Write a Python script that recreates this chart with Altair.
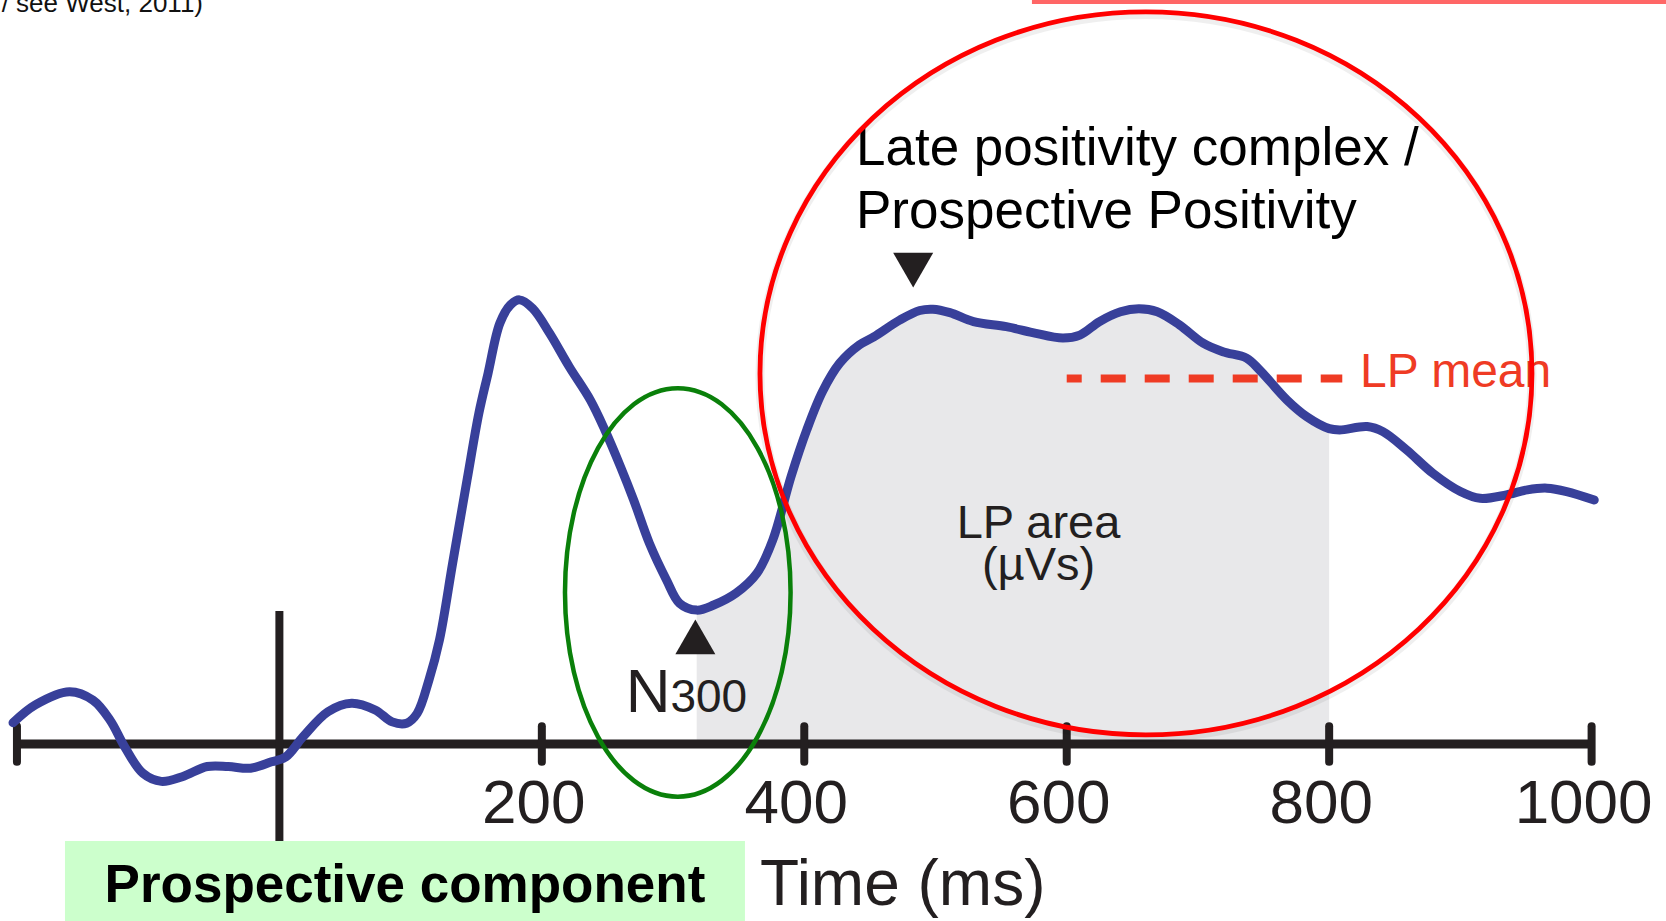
import altair as alt
import pandas as pd

# Grand-average ERP waveform: time (ms) and amplitude (µV)
time_ms = [-203, -186, -160, -142, -129, -118, -104, -90, -74, -55, -39, -22, -6, 5,
           18, 37, 55, 73, 86, 97, 105, 114, 122, 132, 143, 152, 159, 168, 176, 183,
           193, 206, 221, 237, 248, 260, 270, 282, 295, 305, 318, 331, 348, 364, 376,
           390, 402, 414, 427, 442, 453, 473, 488, 498, 511, 529, 554, 574, 597, 610,
           625, 641, 655, 669, 686, 704, 719, 737, 747, 768, 783, 800, 808, 829, 841,
           859, 879, 900, 915, 935, 951, 966, 981, 1002]
amp_uv = [0.50, 0.92, 1.23, 1.03, 0.56, -0.06, -0.69, -0.88, -0.77, -0.53, -0.53, -0.57,
          -0.42, -0.30, 0.17, 0.76, 0.96, 0.80, 0.52, 0.49, 0.72, 1.51, 2.45, 4.25, 6.21,
          7.78, 8.72, 9.90, 10.33, 10.45, 10.25, 9.66, 8.87, 8.09, 7.39, 6.52, 5.74, 4.72,
          3.86, 3.31, 3.15, 3.27, 3.55, 4.02, 4.80, 6.30, 7.40, 8.30, 8.96, 9.39, 9.58,
          9.98, 10.20, 10.23, 10.15, 9.94, 9.82, 9.68, 9.55, 9.62, 9.94, 10.17, 10.24,
          10.17, 9.86, 9.43, 9.23, 9.08, 8.80, 8.09, 7.70, 7.42, 7.39, 7.47, 7.35, 6.92,
          6.37, 5.94, 5.78, 5.86, 5.98, 6.02, 5.94, 5.74]

# Time axis
tick_values = [-200, 200, 400, 600, 800, 1000]
label_values = [200, 400, 600, 800, 1000]
label_text = ["200", "400", "600", "800", "1000"]

# Late positivity measurement window and its mean amplitude
lp_start, lp_end = 318, 800
lp_mean = 8.6
lp_mean_span = [600, 810]

# Component peaks marked with arrowheads
n300_peak = (317, 2.52)
lp_peak = (483, 11.15)

wave = pd.DataFrame({"t": time_ms, "v": amp_uv})
ticks = pd.DataFrame({"t": tick_values})
labels = pd.DataFrame({"t": label_values, "label": label_text})
one = pd.DataFrame({"k": [0]})

W, H = 1666, 921
xs = alt.Scale(domain=[-212.92, 1056.70], nice=False, zero=False)
ys = alt.Scale(domain=[-4.165, 17.506], nice=False, zero=False)

FONT = "Liberation Sans"
INK = "#231f20"
BLUE = "#38409a"
SMOOTH = "catmull-rom"


def X(v):
    return alt.XDatum(v, type="quantitative", scale=xs, axis=None)


def Y(v):
    return alt.YDatum(v, type="quantitative", scale=ys, axis=None)


def xf(field):
    return alt.X(field, type="quantitative", scale=xs, axis=None)


def yf(field):
    return alt.Y(field, type="quantitative", scale=ys, axis=None)


def ellipse_path(rx, ry):
    return (f"M {-rx} 0 A {rx} {ry} 0 0 1 0 {-ry} A {rx} {ry} 0 0 1 {rx} 0 "
            f"A {rx} {ry} 0 0 1 0 {ry} A {rx} {ry} 0 0 1 {-rx} 0 Z")


def label(text, x, y, size, align="left", color=INK, weight="normal"):
    return alt.Chart(one).mark_text(
        text=text, font=FONT, fontSize=size, align=align, baseline="alphabetic",
        color=color, fontWeight=weight
    ).encode(x=X(x), y=Y(y))


# Shaded LP area under the waveform
area = alt.Chart(wave).transform_filter(
    f"datum.t >= {lp_start} && datum.t <= {lp_end}"
).mark_area(color="#e8e8ea", interpolate=SMOOTH).encode(
    x=xf("t"), y=yf("v"), y2=alt.Y2Datum(0)
)

# LP mean reference
mean_line = alt.Chart(one).mark_rule(
    color="#ef3b24", strokeWidth=8, strokeDash=[25, 19], strokeDashOffset=10
).encode(x=X(lp_mean_span[0]), x2=alt.X2Datum(lp_mean_span[1]), y=Y(lp_mean))

# Time axis: baseline, ticks, stimulus onset marker and labels
axis_line = alt.Chart(one).mark_rule(color=INK, strokeWidth=9).encode(
    x=X(-200), x2=alt.X2Datum(1000), y=Y(0)
)
tick_marks = alt.Chart(ticks).mark_rule(color=INK, strokeWidth=8, strokeCap="round").encode(
    x=xf("t"), y=Y(0.42), y2=alt.Y2Datum(-0.42)
)
onset = alt.Chart(one).mark_rule(color=INK, strokeWidth=8).encode(
    x=X(0), y=Y(3.13), y2=alt.Y2Datum(-2.3)
)
tick_labels = alt.Chart(labels).mark_text(
    font=FONT, fontSize=62, align="center", baseline="alphabetic", color=INK, dx=-8
).encode(x=xf("t"), y=Y(-1.86), text="label:N")

# Waveform
curve = alt.Chart(wave).mark_line(
    color=BLUE, strokeWidth=9, interpolate=SMOOTH, strokeCap="round", strokeJoin="round"
).encode(x=xf("t"), y=yf("v"))

# Peak arrowheads
tri_up = alt.Chart(one).mark_point(
    shape="triangle-up", size=1600, filled=True, color=INK, opacity=1
).encode(x=X(n300_peak[0]), y=Y(n300_peak[1]))
tri_down = alt.Chart(one).mark_point(
    shape="triangle-down", size=1600, filled=True, color=INK, opacity=1
).encode(x=X(lp_peak[0]), y=Y(lp_peak[1]))

texts = [
    label("Late positivity complex /", 439.4, 13.62, 53, color="#000000"),
    label("Prospective Positivity", 439.4, 12.14, 53, color="#000000"),
    label("N", 298.0, 0.76, 62, align="right"),
    label("300", 298.0, 0.76, 46),
    label("LP area", 578.5, 4.85, 47, align="center"),
    label("(µVs)", 578.5, 3.86, 47, align="center"),
    label("LP mean", 823.5, 8.41, 48, color="#ef3b24"),
    label("Time (ms)", 366.2, -3.79, 64),
    label("/ see West, 2011)", -58.2, 17.23, 26, align="right", color="#111111"),
]

# Highlight box for the prospective component caption
box = alt.Chart(one).mark_rect(color="#ccffcc").encode(
    x=X(-163.4), x2=alt.X2Datum(354.8), y=Y(-2.28), y2=alt.Y2Datum(-4.165)
)
box_text = label("Prospective component", 95.7, -3.72, 53, align="center",
                 color="#000000", weight="bold")

# Top banner edge
banner = alt.Chart(one).mark_rect(color="#ff6666").encode(
    x=X(573.5), x2=alt.X2Datum(1056.7), y=Y(17.506), y2=alt.Y2Datum(17.41)
)

# Ellipses circling the N300 and the late positivity
green_ring = alt.Chart(one).mark_point(
    shape=ellipse_path(112.8, 204.2), size=4, filled=False, stroke="#0a800a",
    strokeWidth=4.5, opacity=1
).encode(x=X(303.6), y=Y(3.565))
red_shadow = alt.Chart(one).mark_point(
    shape=ellipse_path(386, 361.5), size=4, filled=False, stroke="#000000",
    strokeWidth=9, opacity=0.06
).encode(x=X(660.4), y=Y(8.66))
red_ring = alt.Chart(one).mark_point(
    shape=ellipse_path(386, 361.5), size=4, filled=False, stroke="#ff0000",
    strokeWidth=4.8, opacity=1
).encode(x=X(660.4), y=Y(8.72))

chart = alt.layer(
    area, mean_line, axis_line, tick_marks, onset, tick_labels, curve,
    tri_up, tri_down, *texts, box, box_text, banner, green_ring, red_shadow, red_ring
).properties(
    width=W, height=H, autosize=alt.AutoSizeParams(type="none"), padding=0,
    background="white"
).configure_view(stroke=None)

chart.save("out.html", embed_options={"renderer": "svg", "actions": False})
